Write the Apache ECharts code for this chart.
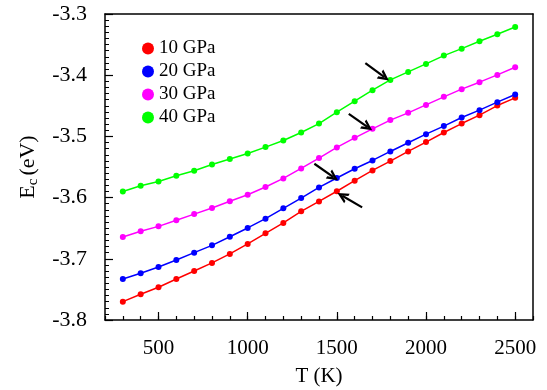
<!DOCTYPE html>
<html>
<head>
<meta charset="utf-8">
<script src="https://cdn.jsdelivr.net/npm/echarts@6/dist/echarts.min.js"></script>
<style>html,body{margin:0;padding:0;background:#fff;}#c{width:547px;height:390px;}</style>
</head>
<body>
<div id="c"></div>
<script>
const temps = [300,400,500,600,700,800,900,1000,1100,1200,1300,1400,1500,1600,1700,1800,1900,2000,2100,2200,2300,2400,2500];
const gpa10 = [-3.770,-3.758,-3.7465,-3.733,-3.720,-3.7067,-3.692,-3.6757,-3.6584,-3.6414,-3.6225,-3.6062,-3.5896,-3.5724,-3.5556,-3.5403,-3.5246,-3.5093,-3.4936,-3.479,-3.4653,-3.4496,-3.437];
const gpa20 = [-3.733,-3.7236,-3.7133,-3.702,-3.690,-3.678,-3.664,-3.6496,-3.6344,-3.6176,-3.6007,-3.5834,-3.568,-3.5529,-3.5393,-3.5246,-3.5104,-3.4963,-3.4832,-3.4692,-3.4571,-3.444,-3.4316];
const gpa30 = [-3.6643,-3.655,-3.647,-3.637,-3.627,-3.617,-3.606,-3.5953,-3.5827,-3.5687,-3.5524,-3.5354,-3.518,-3.5023,-3.4876,-3.4734,-3.4615,-3.4485,-3.4354,-3.4228,-3.4114,-3.3995,-3.387];
const gpa40 = [-3.590,-3.5806,-3.5736,-3.5643,-3.556,-3.5458,-3.537,-3.528,-3.5175,-3.5067,-3.4936,-3.479,-3.4604,-3.4424,-3.4245,-3.4077,-3.3946,-3.3816,-3.368,-3.3566,-3.3446,-3.3331,-3.3212];
const seriesNames = ['10 GPa','20 GPa','30 GPa','40 GPa'];
const seriesColors = ['#ff0000','#0000ff','#ff00ff','#00ff00'];
const xTickLabels = [500,1000,1500,2000,2500];
// arrow annotations: [startT, startE, endT, endE]
const arrows = [
  [1660,-3.3804,1767,-3.4033],
  [1567,-3.4631,1673,-3.4848],
  [1374,-3.5447,1481,-3.5664],
  [1642,-3.6160,1530,-3.5969]
];

const FONT = 'Liberation Serif';
const allData = [gpa10, gpa20, gpa30, gpa40];
const chevron = 'path://M0,10 L5,0 L10,10 L7.6,10 L5,4.6 L2.4,10 Z';
const noSplit = () => ({ lineStyle: { color: 'rgba(0,0,0,0)' } });
const blackLine = () => ({ color: '#000', width: 1.5 });
const tickStyle = () => ({ color: '#000', width: 1.2 });

const series = allData.map((vals, i) => {
  const s = {
    name: seriesNames[i],
    type: 'line',
    xAxisIndex: 0,
    yAxisIndex: 0,
    data: temps.map((t, j) => [t, vals[j]]),
    symbol: 'circle',
    symbolSize: 6,
    lineStyle: { width: 1.5, color: seriesColors[i] },
    itemStyle: { color: seriesColors[i] }
  };
  if (i === 3) {
    s.markLine = {
      silent: true,
      symbol: ['none', chevron],
      symbolSize: [11, 11],
      label: { show: false },
      lineStyle: { color: '#000', width: 2.2, type: 'solid' },
      data: arrows.map(a => [{ coord: [a[0], a[1]] }, { coord: [a[2], a[3]] }])
    };
  }
  return s;
});

const gridRect = () => ({ left: 105, right: 14, top: 14, bottom: 70, outerBoundsMode: 'none' });

const chart = echarts.init(document.getElementById('c'), null, { renderer: 'canvas' });
chart.setOption({
  animation: false,
  grid: [gridRect(), gridRect()],
  legend: {
    data: seriesNames.slice(),
    icon: 'circle',
    orient: 'vertical',
    left: 137,
    top: 34,
    itemWidth: 12,
    itemHeight: 12,
    itemGap: 4,
    textStyle: { fontFamily: FONT, fontSize: 19, color: '#000' },
    selectedMode: false
  },
  graphic: [{
    type: 'text',
    x: 319,
    y: 376,
    silent: true,
    style: { text: 'T (K)', fontFamily: FONT, fontSize: 21, fill: '#000', align: 'center', verticalAlign: 'middle' }
  }],
  xAxis: [{
    gridIndex: 0,
    type: 'value',
    min: 200, max: 2600,
    position: 'bottom',
    axisLine: { show: true, onZero: false, lineStyle: blackLine() },
    axisTick: { show: true, inside: true, length: 8, customValues: xTickLabels.slice(), lineStyle: tickStyle() },
    axisLabel: { show: true, customValues: xTickLabels.slice(), fontFamily: FONT, fontSize: 21, color: '#000', margin: 18,
      formatter: v => String(v) },
    splitLine: noSplit()
  }, {
    gridIndex: 0,
    type: 'value',
    min: 200, max: 2600,
    position: 'top',
    axisLine: { show: true, onZero: false, lineStyle: blackLine() },
    axisTick: { show: false },
    axisLabel: { show: false },
    splitLine: noSplit()
  }, {
    gridIndex: 1,
    type: 'value',
    min: 200, max: 2600, interval: 100,
    position: 'bottom',
    axisLine: { show: false, onZero: false },
    axisTick: { show: true, inside: true, length: 4, lineStyle: tickStyle() },
    axisLabel: { show: false },
    splitLine: noSplit()
  }],
  yAxis: [{
    gridIndex: 0,
    type: 'value',
    min: -3.8, max: -3.3, interval: 0.1,
    position: 'left',
    name: '{e|E}{s|c}{e|(eV)}',
    nameLocation: 'middle',
    nameRotate: 90,
    nameGap: 64,
    nameTextStyle: {
      rich: {
        e: { fontFamily: FONT, fontSize: 22, color: '#000' },
        s: { fontFamily: FONT, fontSize: 15, color: '#000', padding: [10, 3, 0, 0] }
      }
    },
    axisLine: { show: true, onZero: false, lineStyle: blackLine() },
    axisTick: { show: true, inside: true, length: 8, lineStyle: tickStyle() },
    minorTick: { show: true, splitNumber: 10, length: 4, lineStyle: { color: '#000', width: 1 } },
    axisLabel: { fontFamily: FONT, fontSize: 22, color: '#000', margin: 18, formatter: v => v.toFixed(1) },
    splitLine: noSplit()
  }, {
    gridIndex: 0,
    type: 'value',
    min: -3.8, max: -3.3,
    position: 'right',
    axisLine: { show: true, onZero: false, lineStyle: blackLine() },
    axisTick: { show: false },
    axisLabel: { show: false },
    splitLine: noSplit()
  }, {
    gridIndex: 1,
    type: 'value',
    min: -3.8, max: -3.3,
    position: 'left',
    axisLine: { show: false, onZero: false },
    axisTick: { show: false },
    axisLabel: { show: false },
    splitLine: noSplit()
  }],
  series: series
});
</script>
</body>
</html>
